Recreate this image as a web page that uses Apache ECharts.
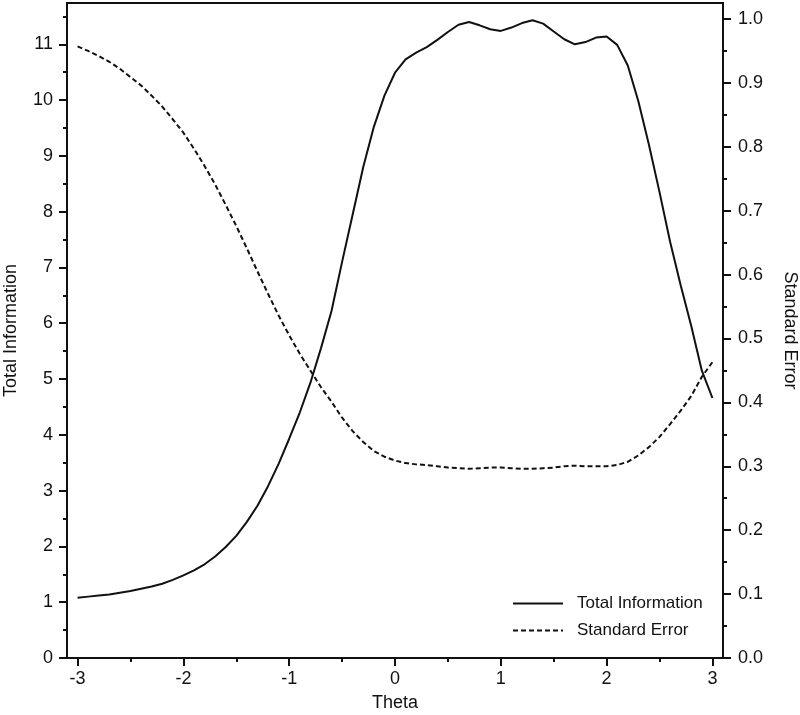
<!DOCTYPE html>
<html>
<head>
<meta charset="utf-8">
<script src="https://cdn.jsdelivr.net/npm/echarts@6/dist/echarts.min.js"></script>
<style>
  html, body { margin: 0; padding: 0; background: #fff; }
  #chart { width: 800px; height: 715px; }
</style>
</head>
<body>
<div id="chart"></div>
<script>
const theta = [
  -3.0, -2.9, -2.8, -2.7, -2.6, -2.5, -2.4, -2.3, -2.2, -2.1,
  -2.0, -1.9, -1.8, -1.7, -1.6, -1.5, -1.4, -1.3, -1.2, -1.1,
  -1.0, -0.9, -0.8, -0.7, -0.6, -0.5, -0.4, -0.3, -0.2, -0.1,
  0.0, 0.1, 0.2, 0.3, 0.4, 0.5, 0.6, 0.7, 0.8, 0.9,
  1.0, 1.1, 1.2, 1.3, 1.4, 1.5, 1.6, 1.7, 1.8, 1.9,
  2.0, 2.1, 2.2, 2.3, 2.4, 2.5, 2.6, 2.7, 2.8, 2.9, 3.0
];
const totalInfo = [
  1.08, 1.10, 1.12, 1.14, 1.17, 1.20, 1.24, 1.28, 1.33, 1.40,
  1.48, 1.57, 1.68, 1.82, 1.99, 2.19, 2.44, 2.73, 3.08, 3.48,
  3.93, 4.40, 4.93, 5.55, 6.22, 7.10, 7.95, 8.80, 9.52, 10.08,
  10.49, 10.73, 10.85, 10.95, 11.08, 11.22, 11.35, 11.40, 11.34, 11.27,
  11.24, 11.30, 11.38, 11.43, 11.37, 11.23, 11.09, 11.00, 11.04, 11.12,
  11.14, 10.99, 10.62, 9.98, 9.20, 8.35, 7.46, 6.68, 5.95, 5.15, 4.66
];
const stdError = [
  0.957, 0.950, 0.942, 0.933, 0.922, 0.909, 0.896, 0.880, 0.863, 0.843,
  0.822, 0.797, 0.770, 0.741, 0.709, 0.676, 0.641, 0.605, 0.570, 0.536,
  0.505, 0.476, 0.450, 0.424, 0.401, 0.376, 0.355, 0.338, 0.324, 0.315,
  0.309, 0.305, 0.303, 0.302, 0.300, 0.298, 0.297, 0.296, 0.297, 0.298,
  0.298, 0.297, 0.296, 0.296, 0.297, 0.298, 0.300, 0.301, 0.300, 0.300,
  0.300, 0.302, 0.307, 0.317, 0.330, 0.346, 0.366, 0.387, 0.410, 0.440, 0.463
];
const xTicks = [-3, -2, -1, 0, 1, 2, 3];
const xMinorTicks = [-2.5, -1.5, -0.5, 0.5, 1.5, 2.5];
const infoTicks = [0, 1, 2, 3, 4, 5, 6, 7, 8, 9, 10, 11];
const infoMinorTicks = [0.5, 1.5, 2.5, 3.5, 4.5, 5.5, 6.5, 7.5, 8.5, 9.5, 10.5, 11.5];
const seTicks = [0, 0.1, 0.2, 0.3, 0.4, 0.5, 0.6, 0.7, 0.8, 0.9, 1.0];
const seMinorTicks = [0.05, 0.15, 0.25, 0.35, 0.45, 0.55, 0.65, 0.75, 0.85, 0.95];

const font = 'Liberation Sans, Arial, sans-serif';
const ink = '#111';

const chart = echarts.init(document.getElementById('chart'));

// hidden twin axis that only carries the short minor ticks
function minorAxis(base, values) {
  return Object.assign({}, base, {
    name: '',
    axisLine: { show: false, onZero: false },
    axisLabel: { show: false },
    axisTick: { show: true, length: 4, lineStyle: { color: ink, width: 2 }, customValues: values },
    splitLine: { show: false }
  });
}

const xBase = { type: 'value', min: -3.1, max: 3.1, position: 'bottom' };
const infoBase = { type: 'value', min: 0, max: 11.74, position: 'left' };
const seBase = { type: 'value', min: 0, max: 1.025, position: 'right' };

const option = {
  animation: false,
  backgroundColor: '#fff',
  grid: {
    left: 67, right: 77, top: 3, bottom: 57,
    containLabel: false,
    outerBoundsMode: 'none',
    show: true, borderColor: ink, borderWidth: 2
  },
  legend: {
    orient: 'vertical',
    left: 507,
    top: 590,
    itemWidth: 50,
    itemHeight: 14,
    itemGap: 10,
    itemStyle: { opacity: 0 },
    textStyle: { fontFamily: font, fontSize: 17, color: ink, padding: [0, 0, 0, 9] },
    data: ['Total Information', 'Standard Error']
  },
  xAxis: [
    Object.assign({}, xBase, {
      name: 'Theta',
      nameLocation: 'middle',
      nameGap: 36,
      nameTextStyle: { fontFamily: font, fontSize: 18, color: ink },
      axisLine: { show: true, onZero: false, lineStyle: { color: ink, width: 2 } },
      axisTick: { show: true, length: 8, lineStyle: { color: ink, width: 2 }, customValues: xTicks },
      axisLabel: { fontFamily: font, fontSize: 18, color: ink, margin: 12, customValues: xTicks },
      splitLine: { show: false }
    }),
    minorAxis(xBase, xMinorTicks)
  ],
  yAxis: [
    Object.assign({}, infoBase, {
      name: 'Total Information',
      nameLocation: 'middle',
      nameGap: 47,
      nameTextStyle: { fontFamily: font, fontSize: 18, color: ink },
      axisLine: { show: true, onZero: false, lineStyle: { color: ink, width: 2 } },
      axisTick: { show: true, length: 8, lineStyle: { color: ink, width: 2 }, customValues: infoTicks },
      axisLabel: { fontFamily: font, fontSize: 18, color: ink, margin: 14, customValues: infoTicks },
      splitLine: { show: false }
    }),
    minorAxis(infoBase, infoMinorTicks),
    Object.assign({}, seBase, {
      name: 'Standard Error',
      nameLocation: 'middle',
      nameGap: 58,
      nameRotate: -90,
      nameTextStyle: { fontFamily: font, fontSize: 18, color: ink },
      axisLine: { show: true, onZero: false, lineStyle: { color: ink, width: 2 } },
      axisTick: { show: true, length: 8, lineStyle: { color: ink, width: 2 }, customValues: seTicks },
      axisLabel: {
        fontFamily: font, fontSize: 18, color: ink, margin: 15, customValues: seTicks,
        formatter: (v) => v.toFixed(1)
      },
      splitLine: { show: false }
    }),
    minorAxis(seBase, seMinorTicks)
  ],
  series: [
    {
      name: 'Total Information',
      type: 'line',
      xAxisIndex: 0,
      yAxisIndex: 0,
      symbol: 'none',
      showSymbol: false,
      itemStyle: { color: ink },
      lineStyle: { color: ink, width: 2 },
      data: theta.map((t, i) => [t, totalInfo[i]])
    },
    {
      name: 'Standard Error',
      type: 'line',
      xAxisIndex: 0,
      yAxisIndex: 2,
      symbol: 'none',
      showSymbol: false,
      itemStyle: { color: ink },
      lineStyle: { color: ink, width: 2, type: [5, 3] },
      data: theta.map((t, i) => [t, stdError[i]])
    }
  ]
};

chart.setOption(option);
</script>
</body>
</html>
